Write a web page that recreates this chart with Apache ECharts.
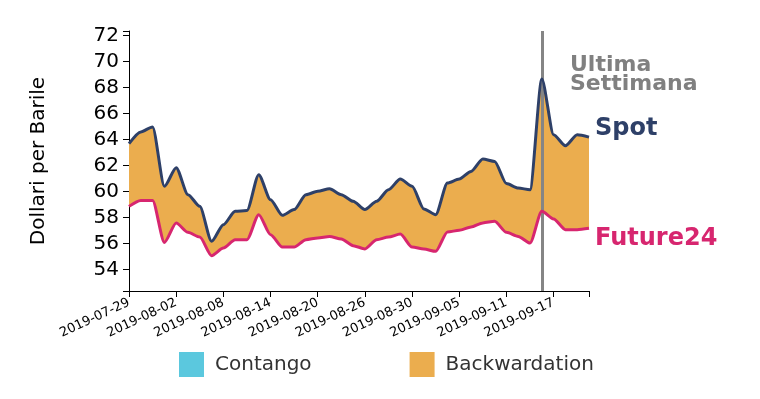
<!DOCTYPE html>
<html>
<head>
<meta charset="utf-8">
<script src="https://cdn.jsdelivr.net/npm/echarts@6/dist/echarts.min.js"></script>
<style>
  html, body { margin: 0; padding: 0; background: #fff; }
  #main { width: 760px; height: 399px; }
</style>
</head>
<body>
<div id="main"></div>
<script>
// trading days
const dates = [
  "2019-07-29", "2019-07-30", "2019-07-31", "2019-08-01", "2019-08-02",
  "2019-08-05", "2019-08-06", "2019-08-07", "2019-08-08", "2019-08-09",
  "2019-08-12", "2019-08-13", "2019-08-14", "2019-08-15", "2019-08-16",
  "2019-08-19", "2019-08-20", "2019-08-21", "2019-08-22", "2019-08-23",
  "2019-08-26", "2019-08-27", "2019-08-28", "2019-08-29", "2019-08-30",
  "2019-09-02", "2019-09-03", "2019-09-04", "2019-09-05", "2019-09-06",
  "2019-09-09", "2019-09-10", "2019-09-11", "2019-09-12", "2019-09-13",
  "2019-09-16", "2019-09-17", "2019-09-18", "2019-09-19", "2019-09-20"
];
const spot = [
  63.69, 64.6, 64.98, 60.41, 61.85, 59.77, 58.87, 56.18, 57.46, 58.49,
  58.55, 61.31, 59.38, 58.18, 58.62, 59.77, 60.03, 60.23, 59.77, 59.26,
  58.62, 59.26, 60.15, 60.97, 60.41, 58.67, 58.23, 60.67, 60.97, 61.56,
  62.51, 62.33, 60.62, 60.28, 60.15, 68.67, 64.38, 63.54, 64.38, 64.2
];
const future24 = [
  58.87, 59.33, 59.33, 56.1, 57.59, 56.87, 56.51, 55.08, 55.67, 56.31,
  56.31, 58.23, 56.69, 55.74, 55.74, 56.31, 56.44, 56.56, 56.36, 55.85,
  55.6, 56.31, 56.51, 56.74, 55.74, 55.59, 55.41, 56.9, 57.03, 57.28,
  57.6, 57.72, 56.87, 56.56, 56.05, 58.49, 57.9, 57.08, 57.08, 57.18
];
const yTicks = [54, 56, 58, 60, 62, 64, 66, 68, 70, 72];
const lastWeek = "2019-09-16";

const font = "DejaVu Sans";
const smooth = 0.25;

let myChart = echarts.init(document.getElementById("main"), null, { renderer: "canvas" });

// spread between spot and future, stacked on top of the future line
let spread = spot.map((v, i) => +(v - future24[i]).toFixed(2));

let option = {
  animation: false,
  textStyle: { fontFamily: font },
  grid: {
    left: 129,
    right: 171,
    top: 31,
    bottom: 108,
    outerBoundsMode: "none",
  },
  legend: {
    left: 179,
    top: 352,
    padding: 0,
    itemWidth: 25,
    itemHeight: 25,
    itemGap: 98,
    icon: "rect",
    selectedMode: false,
    textStyle: { fontSize: 20, color: "#333", fontFamily: font, padding: [0, 0, 0, 6] },
    data: ["Contango", "Backwardation"],
  },
  xAxis: {
    type: "category",
    boundaryGap: false,
    data: dates,
    axisLine: { lineStyle: { color: "#000", width: 1 } },
    axisTick: {
      length: 6,
      lineStyle: { color: "#000" },
      interval: (i) => i % 4 === 0 || i === dates.length - 1,
    },
    axisLabel: {
      rotate: 25,
      fontSize: 13,
      color: "#000",
      margin: 11,
      interval: (i) => i % 4 === 0,
    },
    splitLine: { show: false },
  },
  yAxis: {
    type: "value",
    min: 52.36,
    max: 72.36,
    name: "Dollari per Barile",
    nameLocation: "middle",
    nameGap: 80,
    nameTextStyle: { fontSize: 20, color: "#000", fontFamily: font },
    axisLine: { show: true, lineStyle: { color: "#000", width: 1 } },
    axisTick: {
      show: true,
      length: 6,
      lineStyle: { color: "#000" },
      customValues: [52.36].concat(yTicks, [72.36]),
    },
    axisLabel: {
      fontSize: 20,
      color: "#000",
      margin: 10,
      customValues: yTicks,
    },
    splitLine: { show: false },
  },
  series: [
    {
      name: "base",
      type: "line",
      stack: "band",
      data: future24,
      smooth: smooth,
      smoothMonotone: "x",
      symbol: "none",
      lineStyle: { opacity: 0 },
      silent: true,
    },
    {
      name: "Backwardation",
      type: "line",
      stack: "band",
      data: spread,
      smooth: smooth,
      smoothMonotone: "x",
      symbol: "none",
      itemStyle: { color: "#ebad4e" },
      lineStyle: { opacity: 0 },
      areaStyle: { color: "#ebad4e", opacity: 1 },
      silent: true,
    },
    {
      name: "Contango",
      type: "line",
      data: [],
      itemStyle: { color: "#5bc8de" },
    },
    {
      name: "Spot",
      type: "line",
      data: spot,
      smooth: smooth,
      smoothMonotone: "x",
      symbol: "none",
      z: 5,
      lineStyle: { color: "#2e4068", width: 3 },
      itemStyle: { color: "#2e4068" },
      endLabel: {
        show: true,
        formatter: "Spot",
        distance: 6,
        offset: [0, -8],
        fontSize: 24,
        fontWeight: "bold",
        fontFamily: font,
        color: "#2e4068",
      },
      markLine: {
        silent: true,
        symbol: "none",
        label: { show: false },
        lineStyle: { color: "#858585", width: 3, type: "solid" },
        data: [{ xAxis: lastWeek }],
      },
    },
    {
      name: "Future24",
      type: "line",
      data: future24,
      smooth: smooth,
      smoothMonotone: "x",
      symbol: "none",
      z: 5,
      lineStyle: { color: "#d7266f", width: 3 },
      itemStyle: { color: "#d7266f" },
      endLabel: {
        show: true,
        formatter: "Future24",
        distance: 6,
        offset: [0, 10],
        fontSize: 24,
        fontWeight: "bold",
        fontFamily: font,
        color: "#d7266f",
      },
    },
  ],
  graphic: [
    {
      type: "text",
      x: 570,
      y: 65,
      style: {
        text: "Ultima",
        font: "bold 22px 'DejaVu Sans'",
        fill: "#808080",
        verticalAlign: "middle",
      },
    },
    {
      type: "text",
      x: 570,
      y: 84,
      style: {
        text: "Settimana",
        font: "bold 22px 'DejaVu Sans'",
        fill: "#808080",
        verticalAlign: "middle",
      },
    },
  ],
};
myChart.setOption(option);
</script>
</body>
</html>
